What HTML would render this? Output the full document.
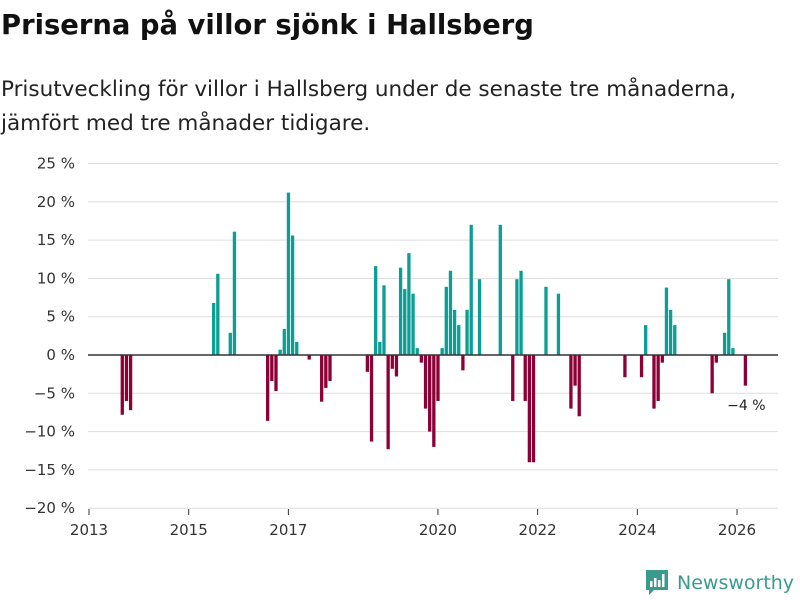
<!DOCTYPE html>
<html><head><meta charset="utf-8"><style>
body{margin:0;width:800px;height:600px;background:#fff;font-family:"DejaVu Sans",sans-serif;overflow:hidden;position:relative}
h1{position:absolute;left:1px;top:10px;margin:0;font-size:27.4px;font-weight:bold;color:#111;white-space:nowrap}
.sub{position:absolute;left:1px;top:73px;margin:0;font-size:21.5px;line-height:34px;color:#222;white-space:nowrap}
</style></head><body>
<h1>Priserna på villor sjönk i Hallsberg</h1>
<p class="sub">Prisutveckling för villor i Hallsberg under de senaste tre månaderna,<br>jämfört med tre månader tidigare.</p>
<svg id="chart" width="800" height="600" style="position:absolute;left:0;top:0"></svg>
<div style="position:absolute;left:645px;top:569px;display:flex;align-items:center">
<svg width="24" height="28"><path d="M1 1h22v20h-14l-5 5v-5h-3z" fill="#3a9a8c"/><rect x="5" y="12" width="2.5" height="6" fill="#fff"/><rect x="9" y="9" width="2.5" height="9" fill="#fff"/><rect x="13" y="11" width="2.5" height="7" fill="#fff"/><rect x="17" y="5" width="2.5" height="13" fill="#fff"/></svg>
<span style="font-size:19px;color:#3a9a8c;margin-left:8px;font-weight:500">Newsworthy</span></div>
<script>
const months=[8,9,10,30,31,34,35,43,44,45,46,47,48,49,50,53,56,57,58,67,68,69,70,71,72,73,74,75,76,77,78,79,80,81,82,83,84,85,86,87,88,89,90,91,92,94,99,102,103,104,105,106,107,110,113,116,117,118,129,133,134,136,137,138,139,140,141,150,151,153,154,155,158];
const values=[-7.8,-6.0,-7.2,6.8,10.6,2.9,16.1,-8.6,-3.4,-4.7,0.7,3.4,21.2,15.6,1.7,-0.6,-6.1,-4.3,-3.4,-2.2,-11.3,11.6,1.7,9.1,-12.3,-1.8,-2.8,11.4,8.6,13.3,8.0,0.9,-1.0,-7.0,-10.0,-12.0,-6.0,0.9,8.9,11.0,5.9,3.9,-2.0,5.9,17.0,9.9,17.0,-6.0,9.9,11.0,-6.0,-14.0,-14.0,8.9,8.0,-7.0,-4.0,-8.0,-2.9,-2.9,3.9,-7.0,-6.0,-1.0,8.8,5.9,3.9,-5.0,-1.0,2.9,9.9,0.9,-4.0];
const yTicks=[25,20,15,10,5,0,-5,-10,-15,-20];
const xYears=[2013,2015,2017,2020,2022,2024,2026];
const svg=document.getElementById('chart');const NS='http://www.w3.org/2000/svg';
const y=v=>355-v*7.66;
const x=m=>89+m*4.154;
function mk(t,a){const e=document.createElementNS(NS,t);for(const k in a)e.setAttribute(k,a[k]);svg.appendChild(e);return e;}
yTicks.forEach(v=>{
 const l=mk('line',{x1:88,x2:778,y1:y(v),y2:y(v),stroke:'#ddd','stroke-width':1});
 
 
 const t=mk('text',{x:75,y:y(v)+5,'text-anchor':'end','font-size':15,fill:'#333','font-family':'DejaVu Sans, sans-serif'});
 t.textContent=(v<0?'−'+(-v):v)+' %';
 
 
});
xYears.forEach(yr=>{
 const m=(yr-2013)*12;
 const tk=mk('line',{x1:x(m),x2:x(m),y1:509,y2:515,stroke:'#333'});
 
 
 const t=mk('text',{x:x(m),y:535,'text-anchor':'middle','font-size':15,fill:'#333','font-family':'DejaVu Sans, sans-serif'});
 t.textContent=yr;
 
 
});
months.forEach((m,i)=>{
 const v=values[i];
 const r=mk('rect',{x:x(m)-1.6,width:3.3,y:Math.min(y(v),355),height:Math.abs(y(v)-355),fill:v>=0?'#0a9e95':'#8c0036'});
 
 
});
const z=mk('line',{x1:88,x2:778,y1:355,y2:355,stroke:'#333','stroke-width':1.5});


const lab=mk('text',{x:x(months[months.length-1])+1,y:410,'text-anchor':'middle','font-size':14,fill:'#222','font-family':'DejaVu Sans, sans-serif'});
lab.textContent='−'+Math.abs(values[values.length-1])+' %';


</script>
</body></html>
